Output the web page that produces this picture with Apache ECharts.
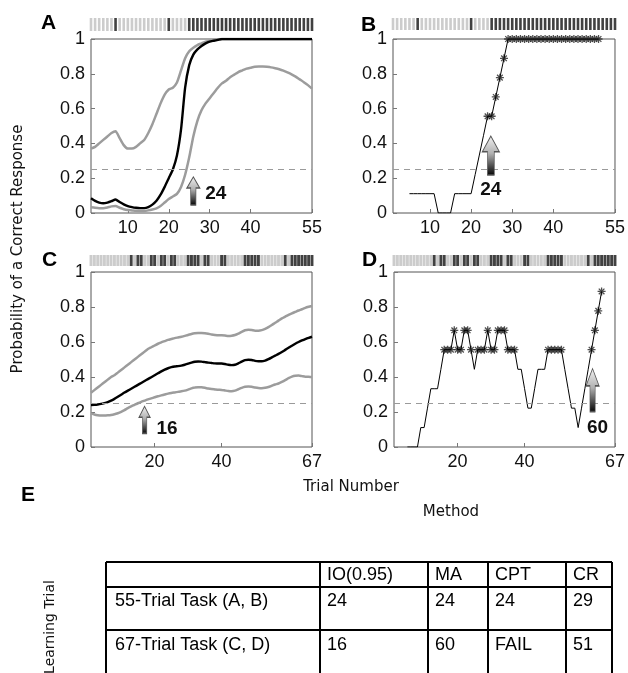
<!DOCTYPE html>
<html>
<head>
<meta charset="utf-8">
<script src="https://cdn.jsdelivr.net/npm/echarts@6/dist/echarts.min.js"></script>
<style>
  html, body { margin: 0; background: #fff; }
  #main { width: 628px; height: 673px; }
</style>
</head>
<body>
<div id="main"></div>
<script>
// ---- data ----
// x tick labels
var xTicksAB = [10, 20, 30, 40, 55];
var xTicksCD = [20, 40, 67];

// 55-trial task: response per trial (1 = correct)
var respAB = [0,0,0,0,0,0,1,0,0,0, 0,0,0,0,0,0,0,0,0,1, 0,0,0,0,1,1,1,1,1,1,
              1,1,1,1,1,1,1,1,1,1, 1,1,1,1,1,1,1,1,1,1, 1,1,1,1,1];
// 67-trial task
var respCD = [0,0,0,0,0,0,0,0,0,0, 0,0,1,0,1,1,0,0,1,1, 0,1,1,0,1,1,0,0,0,1,
              1,1,1,0,1,1,0,0,0,1, 1,0,0,0,0,0,1,1,1,1, 1,0,0,0,0,0,0,0,1,0,
              1,1,1,1,1,1,1];

// panel A: IO curve (mode) and 90% bounds, trials 1..55
var aUpper = [0.37,0.38,0.40,0.42,0.44,0.46,0.47,0.43,0.39,0.37, 0.37,0.38,0.40,0.42,0.46,0.51,0.57,0.63,0.68,0.71,
              0.72,0.75,0.82,0.89,0.93,0.95,0.965,0.975,0.985,0.99, 0.995,0.998,1,1,1,1,1,1,1,1,
              1,1,1,1,1,1,1,1,1,1, 1,1,1,1,1];
var aMean = [0.085,0.07,0.06,0.056,0.06,0.068,0.078,0.063,0.05,0.04, 0.034,0.03,0.028,0.028,0.034,0.048,0.07,0.105,0.15,0.2,
             0.25,0.33,0.48,0.72,0.85,0.91,0.94,0.96,0.975,0.985, 0.99,0.995,1,1,1,1,1,1,1,1,
             1,1,1,1,1,1,1,1,1,1, 1,1,1,1,1];
var aLower = [0.033,0.03,0.028,0.028,0.032,0.038,0.04,0.03,0.022,0.017, 0.015,0.013,0.012,0.012,0.015,0.02,0.027,0.04,0.06,0.08,
              0.095,0.11,0.15,0.22,0.32,0.44,0.53,0.59,0.63,0.66, 0.69,0.72,0.745,0.76,0.78,0.795,0.81,0.82,0.83,0.835,
              0.84,0.842,0.842,0.84,0.837,0.832,0.826,0.818,0.808,0.797, 0.784,0.768,0.752,0.735,0.715];

// panel B: moving average, trials 5..51
var maStartB = 5;
var bMA = [0.111,0.111,0.111,0.111,0.111,0.111,0.111, 0,0,0,0, 0.111,0.111,0.111,0.111,0.111,
           0.222,0.333,0.444,0.556,0.556,0.667,0.778,0.889,
           1,1,1,1,1,1,1,1,1,1, 1,1,1,1,1,1,1,1,1,1, 1,1,1];

// panel C: IO curve and bounds, trials 1..67
var cUpper = [0.31,0.325,0.34,0.355,0.37,0.385,0.40,0.41,0.425,0.44, 0.455,0.47,0.485,0.50,0.515,0.53,0.545,0.56,0.57,0.58,
              0.59,0.598,0.605,0.612,0.617,0.622,0.626,0.63,0.635,0.64, 0.646,0.65,0.652,0.652,0.65,0.647,0.643,0.64,0.638,0.638,
              0.637,0.635,0.636,0.64,0.648,0.658,0.667,0.67,0.668,0.665, 0.665,0.668,0.675,0.685,0.697,0.71,0.722,0.735,0.745,0.755,
              0.764,0.772,0.78,0.787,0.795,0.801,0.806];
var cMean = [0.24,0.241,0.243,0.246,0.251,0.257,0.265,0.275,0.287,0.299, 0.311,0.322,0.333,0.344,0.355,0.366,0.377,0.388,0.399,0.41,
             0.421,0.432,0.442,0.45,0.456,0.46,0.462,0.465,0.47,0.476, 0.482,0.487,0.489,0.488,0.485,0.482,0.48,0.478,0.477,0.477,
             0.474,0.47,0.468,0.47,0.478,0.488,0.496,0.499,0.497,0.492, 0.49,0.49,0.494,0.502,0.512,0.522,0.532,0.543,0.555,0.567,
             0.579,0.59,0.6,0.609,0.617,0.624,0.63];
var cLower = [0.192,0.186,0.182,0.18,0.18,0.181,0.183,0.187,0.193,0.201, 0.211,0.222,0.232,0.241,0.25,0.258,0.265,0.272,0.278,0.284,
              0.29,0.295,0.3,0.305,0.309,0.312,0.315,0.318,0.322,0.328, 0.335,0.34,0.342,0.341,0.338,0.334,0.331,0.329,0.327,0.326,
              0.323,0.32,0.319,0.322,0.33,0.338,0.344,0.346,0.344,0.34, 0.337,0.336,0.338,0.343,0.35,0.357,0.363,0.372,0.382,0.393,
              0.402,0.407,0.408,0.405,0.402,0.401,0.40];

// panel D: moving average, trials 5..63
var maStartD = 5;
var dMA = [0,0,0,0,0.111,0.111,0.222,0.333,0.333,0.333, 0.444,0.556,0.556,0.556,0.667,0.556,0.556,0.667,0.667,0.556,
           0.444,0.556,0.556,0.556,0.667,0.556,0.556,0.667,0.667,0.667, 0.556,0.556,0.556,0.444,0.444,0.333,0.222,0.222,0.333,0.444,
           0.444,0.444,0.556,0.556,0.556,0.556,0.556,0.444,0.333,0.222, 0.222,0.111,0.222,0.333,0.444,0.556,0.667,0.778,0.889];

var chance = 0.25;
// learning-trial arrows: [trial, probability], label
var arrowPos = [[26, 0.127], [24.8, 0.33], [17, 0.155], [60.3, 0.325]];
var arrowText = ['24', '24', '16', '60'];

// table E
var methods = ['IO(0.95)', 'MA', 'CPT', 'CR'];
var tasks = ['55-Trial Task (A, B)', '67-Trial Task (C, D)'];
var learnTrial = [['24', '24', '24', '29'], ['16', '60', 'FAIL', '51']];

// ---- helpers ----
function pairs(arr, start) {
  return arr.map(function (v, i) { return [i + start, v]; });
}
function starred(arr, start) {
  return pairs(arr, start).filter(function (p) { return p[1] >= 0.55; });
}
function raster(resp) {
  return resp.map(function (r, i) {
    return { value: [i + 1, 0.5], itemStyle: { color: r ? '#111' : '#bfbfbf' } };
  });
}

var arrowPath = 'path://M5,0L10,8L7,8L7,20L3,20L3,8L0,8Z';
var starPath = 'path://M-0.8,-5L0.8,-5L0.8,5L-0.8,5Z M-5,-0.8L5,-0.8L5,0.8L-5,0.8Z ' +
  'M-4.1,-2.97L-2.97,-4.1L4.1,2.97L2.97,4.1Z M-2.97,4.1L-4.1,2.97L2.97,-4.1L4.1,-2.97Z';
var numFont = 'Liberation Sans';

var myChart = echarts.init(document.getElementById('main'));

var panels = [
  { left: 91, top: 39, width: 221, height: 174, max: 55, ticks: xTicksAB, rTop: 18, rH: 13, bw: 2.6 },
  { left: 393, top: 39, width: 222, height: 174, max: 55, ticks: xTicksAB, rTop: 18, rH: 12, bw: 2.6 },
  { left: 91, top: 272, width: 221, height: 175, max: 67, ticks: xTicksCD, rTop: 255, rH: 11, bw: 2.9 },
  { left: 394, top: 272, width: 221, height: 175, max: 67, ticks: xTicksCD, rTop: 255, rH: 11, bw: 2.9 }
];

var grids = [], xAxes = [], yAxes = [];
panels.forEach(function (p) {
  grids.push({ left: p.left, top: p.top, width: p.width, height: p.height,
    show: true, borderColor: '#555', borderWidth: 1, backgroundColor: 'transparent' });
  xAxes.push({
    type: 'value', gridIndex: grids.length - 1, min: 1, max: p.max,
    axisLine: { show: false }, splitLine: { show: false },
    axisTick: { inside: true, length: 4, customValues: p.ticks, lineStyle: { color: '#777' } },
    axisLabel: { customValues: p.ticks, fontFamily: numFont, fontSize: 18, color: '#111', margin: 6 }
  });
  yAxes.push({
    type: 'value', gridIndex: grids.length - 1, min: 0, max: 1, interval: 0.2,
    axisLine: { show: false }, splitLine: { show: false },
    axisTick: { inside: true, length: 4, lineStyle: { color: '#777' } },
    axisLabel: { fontFamily: numFont, fontSize: 18, color: '#111', margin: 6 }
  });
});
panels.forEach(function (p) {
  grids.push({ left: p.left, top: p.rTop, width: p.width, height: p.rH });
  xAxes.push({ type: 'value', gridIndex: grids.length - 1, min: 1, max: p.max, show: false });
  yAxes.push({ type: 'value', gridIndex: grids.length - 1, min: 0, max: 1, show: false });
});

function chanceLine() {
  return {
    silent: true, symbol: 'none', label: { show: false },
    lineStyle: { type: [6, 5], color: '#9a9a9a', width: 1 },
    data: [{ yAxis: chance }]
  };
}
function arrowMark(k, size, labelPos) {
  return {
    silent: true,
    symbol: arrowPath,
    symbolSize: size,
    symbolKeepAspect: false,
    itemStyle: {
      color: new echarts.graphic.LinearGradient(0, 0, 0, 1, [
        { offset: 0, color: '#f4f4f4' },
        { offset: 0.45, color: '#b0b0b0' },
        { offset: 1, color: '#000' }
      ]),
      borderColor: '#555', borderWidth: 1
    },
    label: Object.assign({
      show: true, formatter: arrowText[k], color: '#111',
      fontFamily: numFont, fontWeight: 'bold', fontSize: 19
    }, labelPos),
    data: [{ coord: arrowPos[k] }]
  };
}
function curve(name, data, xi, color, w, extra) {
  return Object.assign({
    name: name, type: 'line', xAxisIndex: xi, yAxisIndex: xi,
    data: data, showSymbol: false, smooth: 0.2,
    lineStyle: { color: color, width: w }, silent: true
  }, extra || {});
}

var series = [
  // A
  curve('A lower', pairs(aLower, 1), 0, '#9c9c9c', 2.5),
  curve('A upper', pairs(aUpper, 1), 0, '#9c9c9c', 2.5),
  curve('A mode', pairs(aMean, 1), 0, '#000', 2.4, {
    markLine: chanceLine(),
    markPoint: arrowMark(0, [13, 28], { position: 'right', distance: 5, offset: [0, 3] })
  }),
  // B
  curve('B MA', pairs(bMA, maStartB), 1, '#000', 1, {
    smooth: false,
    markLine: chanceLine(),
    markPoint: arrowMark(1, [17, 39], { position: 'bottom', distance: 4, offset: [0, 0] })
  }),
  { type: 'scatter', xAxisIndex: 1, yAxisIndex: 1, data: starred(bMA, maStartB),
    symbol: starPath, symbolSize: 8, itemStyle: { color: '#222' }, silent: true },
  // C
  curve('C lower', pairs(cLower, 1), 2, '#9c9c9c', 2.5),
  curve('C upper', pairs(cUpper, 1), 2, '#9c9c9c', 2.5),
  curve('C mode', pairs(cMean, 1), 2, '#000', 2.4, {
    markLine: chanceLine(),
    markPoint: arrowMark(2, [11, 27], { position: 'right', distance: 6, offset: [0, 9] })
  }),
  // D
  curve('D MA', pairs(dMA, maStartD), 3, '#000', 1, {
    smooth: false,
    markLine: chanceLine(),
    markPoint: arrowMark(3, [13, 43], { position: 'bottom', distance: 6, offset: [5, 0] })
  }),
  { type: 'scatter', xAxisIndex: 3, yAxisIndex: 3, data: starred(dMA, maStartD),
    symbol: starPath, symbolSize: 8, itemStyle: { color: '#222' }, silent: true }
];
// rasters of trial responses
[respAB, respAB, respCD, respCD].forEach(function (resp, k) {
  series.push({
    type: 'scatter', xAxisIndex: 4 + k, yAxisIndex: 4 + k, data: raster(resp),
    symbol: 'rect', symbolSize: [panels[k].bw, panels[k].rH], silent: true
  });
});

// ---- text and table ----
var gothic = 'DejaVu Sans';
var graphics = [
  { type: 'text', left: 41, top: 13, style: { text: 'A', font: 'bold 21px Liberation Sans', fill: '#000' } },
  { type: 'text', left: 361, top: 15, style: { text: 'B', font: 'bold 21px Liberation Sans', fill: '#000' } },
  { type: 'text', left: 42, top: 250, style: { text: 'C', font: 'bold 21px Liberation Sans', fill: '#000' } },
  { type: 'text', left: 362, top: 250, style: { text: 'D', font: 'bold 21px Liberation Sans', fill: '#000' } },
  { type: 'text', left: 21, top: 485, style: { text: 'E', font: 'bold 21px Liberation Sans', fill: '#000' } },
  { type: 'text', x: 18, y: 249, rotation: Math.PI / 2,
    style: { text: 'Probability of a Correct Response', font: '15px ' + gothic, fill: '#111',
      textAlign: 'center', textVerticalAlign: 'middle' } },
  { type: 'text', x: 351, y: 487,
    style: { text: 'Trial Number', font: '15px ' + gothic, fill: '#111', textAlign: 'center', textVerticalAlign: 'middle' } },
  { type: 'text', x: 451, y: 512,
    style: { text: 'Method', font: '15px ' + gothic, fill: '#111', textAlign: 'center', textVerticalAlign: 'middle' } },
  { type: 'text', x: 50, y: 627, rotation: Math.PI / 2,
    style: { text: 'Learning Trial', font: '14px ' + gothic, fill: '#111', textAlign: 'center', textVerticalAlign: 'middle' } }
];
var colX = [106, 320, 428, 488, 566, 612];
var rowY = [562, 587, 630, 680];
[0, 1, 2].forEach(function (r) {
  graphics.push({ type: 'line', shape: { x1: colX[0], y1: rowY[r], x2: colX[5], y2: rowY[r] },
    style: { stroke: '#000', lineWidth: 2 } });
});
colX.forEach(function (x) {
  graphics.push({ type: 'line', shape: { x1: x, y1: rowY[0], x2: x, y2: rowY[3] },
    style: { stroke: '#000', lineWidth: 2 } });
});
methods.forEach(function (m, i) {
  graphics.push({ type: 'text', x: colX[i + 1] + 7, y: 575,
    style: { text: m, font: '18px Liberation Sans', fill: '#000', textVerticalAlign: 'middle' } });
});
tasks.forEach(function (t, r) {
  var y = r === 0 ? 601 : 645;
  graphics.push({ type: 'text', x: 115, y: y,
    style: { text: t, font: '18px Liberation Sans', fill: '#000', textVerticalAlign: 'middle' } });
  learnTrial[r].forEach(function (v, i) {
    graphics.push({ type: 'text', x: colX[i + 1] + 7, y: y,
      style: { text: v, font: '18px Liberation Sans', fill: '#000', textVerticalAlign: 'middle' } });
  });
});

var option = {
  animation: false,
  backgroundColor: '#fff',
  grid: grids,
  xAxis: xAxes,
  yAxis: yAxes,
  series: series,
  graphic: graphics
};
myChart.setOption(option);
</script>
</body>
</html>
